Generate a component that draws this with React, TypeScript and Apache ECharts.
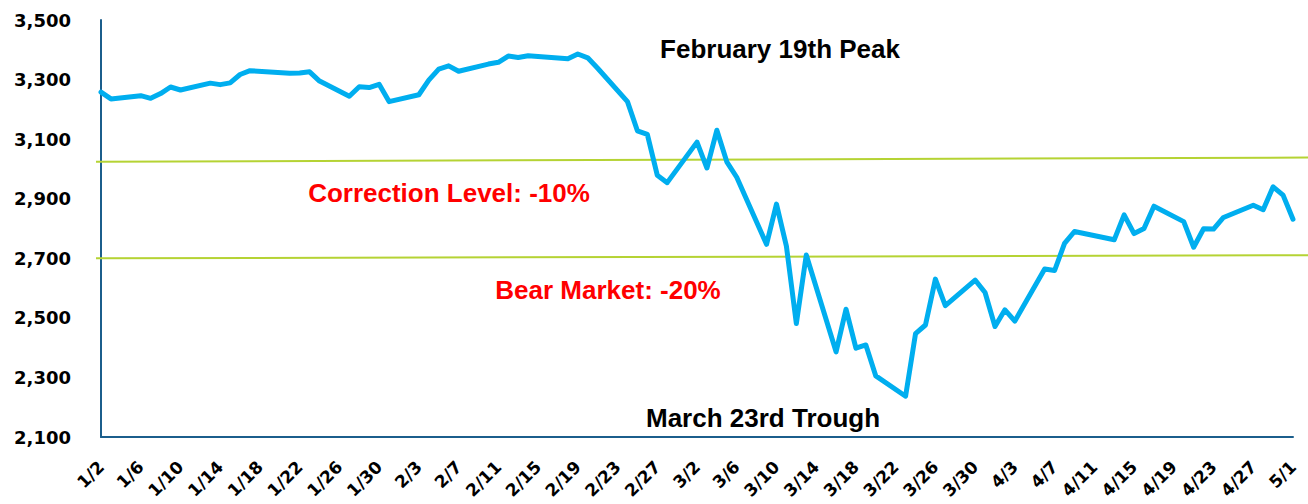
import React, { useEffect, useRef } from "react";
import * as echarts from "echarts";

// Trading days (2020) and S&P 500 closes
const tradingDates = [
  "1/2", "1/3", "1/6", "1/7", "1/8", "1/9", "1/10", "1/13", "1/14", "1/15", "1/16", "1/17",
  "1/21", "1/22", "1/23", "1/24", "1/27", "1/28", "1/29", "1/30", "1/31",
  "2/3", "2/4", "2/5", "2/6", "2/7", "2/10", "2/11", "2/12", "2/13", "2/14",
  "2/18", "2/19", "2/20", "2/21", "2/24", "2/25", "2/26", "2/27", "2/28",
  "3/2", "3/3", "3/4", "3/5", "3/6", "3/9", "3/10", "3/11", "3/12", "3/13",
  "3/16", "3/17", "3/18", "3/19", "3/20", "3/23", "3/24", "3/25", "3/26", "3/27",
  "3/30", "3/31", "4/1", "4/2", "4/3", "4/6", "4/7", "4/8", "4/9",
  "4/13", "4/14", "4/15", "4/16", "4/17", "4/20", "4/21", "4/22", "4/23", "4/24",
  "4/27", "4/28", "4/29", "4/30", "5/1",
];
const closes = [
  3258, 3235, 3246, 3237, 3253, 3275, 3265, 3288, 3283, 3289, 3317, 3330,
  3321, 3322, 3326, 3295, 3244, 3276, 3273, 3284, 3226,
  3249, 3298, 3335, 3346, 3328, 3352, 3358, 3379, 3374, 3380,
  3370, 3386, 3373, 3338, 3226, 3128, 3116, 2979, 2954,
  3090, 3003, 3130, 3024, 2972, 2747, 2882, 2741, 2481, 2711,
  2386, 2529, 2398, 2409, 2305, 2237, 2447, 2476, 2630, 2541,
  2627, 2585, 2471, 2527, 2489, 2664, 2659, 2750, 2790,
  2762, 2846, 2783, 2800, 2875, 2823, 2737, 2799, 2798, 2837,
  2878, 2863, 2940, 2912, 2831,
];

// Calendar span of the axis: [month, first day, last day]
const monthSpans: [number, number, number][] = [
  [1, 2, 31],
  [2, 1, 29],
  [3, 1, 31],
  [4, 1, 30],
  [5, 1, 1],
];

const yMin = 2100;
const yMax = 3500;
const yLabelStep = 200;

// Reference lines (start value, end value) as drawn
const correctionLevel = [3024, 3038];
const bearLevel = [2700, 2710];

const annotationTexts = [
  { text: "February 19th Peak", color: "#000000", x: 780, y: 49 },
  { text: "Correction Level: -10%", color: "#FF0000", x: 449, y: 193 },
  { text: "Bear Market: -20%", color: "#FF0000", x: 608, y: 290 },
  { text: "March 23rd Trough", color: "#000000", x: 763, y: 418 },
];

export default function App() {
  const ref = useRef<HTMLDivElement>(null);

  useEffect(() => {
    if (!ref.current) return;
    const chart = echarts.init(ref.current, undefined, { renderer: "svg" });

    const categories: string[] = [];
    monthSpans.forEach(([m, d0, d1]) => {
      for (let d = d0; d <= d1; d++) categories.push(`${m}/${d}`);
    });
    const lookup: Record<string, number> = {};
    tradingDates.forEach((d, i) => (lookup[d] = closes[i]));
    const values = categories.map((c) => (c in lookup ? lookup[c] : null));

    const axisColor = "#1B5E8C";
    chart.setOption({
      animation: false,
      grid: { left: 101, right: 15, top: 20, bottom: 67, containLabel: false },
      xAxis: {
        type: "category",
        data: categories,
        boundaryGap: false,
        axisLine: { show: true, lineStyle: { color: axisColor, width: 2 } },
        axisTick: { show: false },
        splitLine: { show: false },
        axisLabel: {
          interval: 3,
          rotate: 45,
          margin: 27,
          color: "#000",
          fontFamily: "DejaVu Sans",
          fontWeight: "bold",
          fontSize: 17,
        },
      },
      yAxis: {
        type: "value",
        min: yMin,
        max: yMax,
        interval: 100,
        axisLine: { show: true, lineStyle: { color: axisColor, width: 2 } },
        axisTick: { show: false },
        splitLine: { show: false },
        axisLabel: {
          margin: 30,
          color: "#000",
          fontFamily: "DejaVu Sans",
          fontWeight: "bold",
          fontSize: 18,
          formatter: (v: number) =>
            (v - yMin) % yLabelStep === 0 ? v.toLocaleString("en-US") : "",
        },
      },
      series: [
        {
          type: "line",
          data: values,
          connectNulls: true,
          showSymbol: false,
          symbol: "none",
          z: 5,
          lineStyle: { color: "#00AEEF", width: 5, cap: "round", join: "round" },
        },
      ],
    });

    const n = categories.length - 1;
    const mkLine = (lvl: number[]) => {
      const a = chart.convertToPixel({ gridIndex: 0 }, [0, lvl[0]]) as number[];
      const b = chart.convertToPixel({ gridIndex: 0 }, [n, lvl[1]]) as number[];
      const slope = (b[1] - a[1]) / (b[0] - a[0]);
      const x1 = 96;
      const x2 = 1308;
      return {
        type: "line",
        z: 1,
        shape: {
          x1,
          y1: a[1] + slope * (x1 - a[0]),
          x2,
          y2: a[1] + slope * (x2 - a[0]),
        },
        style: { stroke: "#B5D334", lineWidth: 2 },
      };
    };

    chart.setOption({
      graphic: [
        mkLine(correctionLevel),
        mkLine(bearLevel),
        ...annotationTexts.map((t) => ({
          type: "text",
          z: 100,
          x: t.x,
          y: t.y,
          style: {
            text: t.text,
            fill: t.color,
            fontFamily: "Liberation Sans",
            fontWeight: "bold",
            fontSize: 26,
            align: "center",
            verticalAlign: "middle",
          },
        })),
      ],
    });

    return () => chart.dispose();
  }, []);

  return (
    <div
      ref={ref}
      style={{ position: "fixed", left: 0, top: 0, width: 1308, height: 504, background: "#fff" }}
    />
  );
}
